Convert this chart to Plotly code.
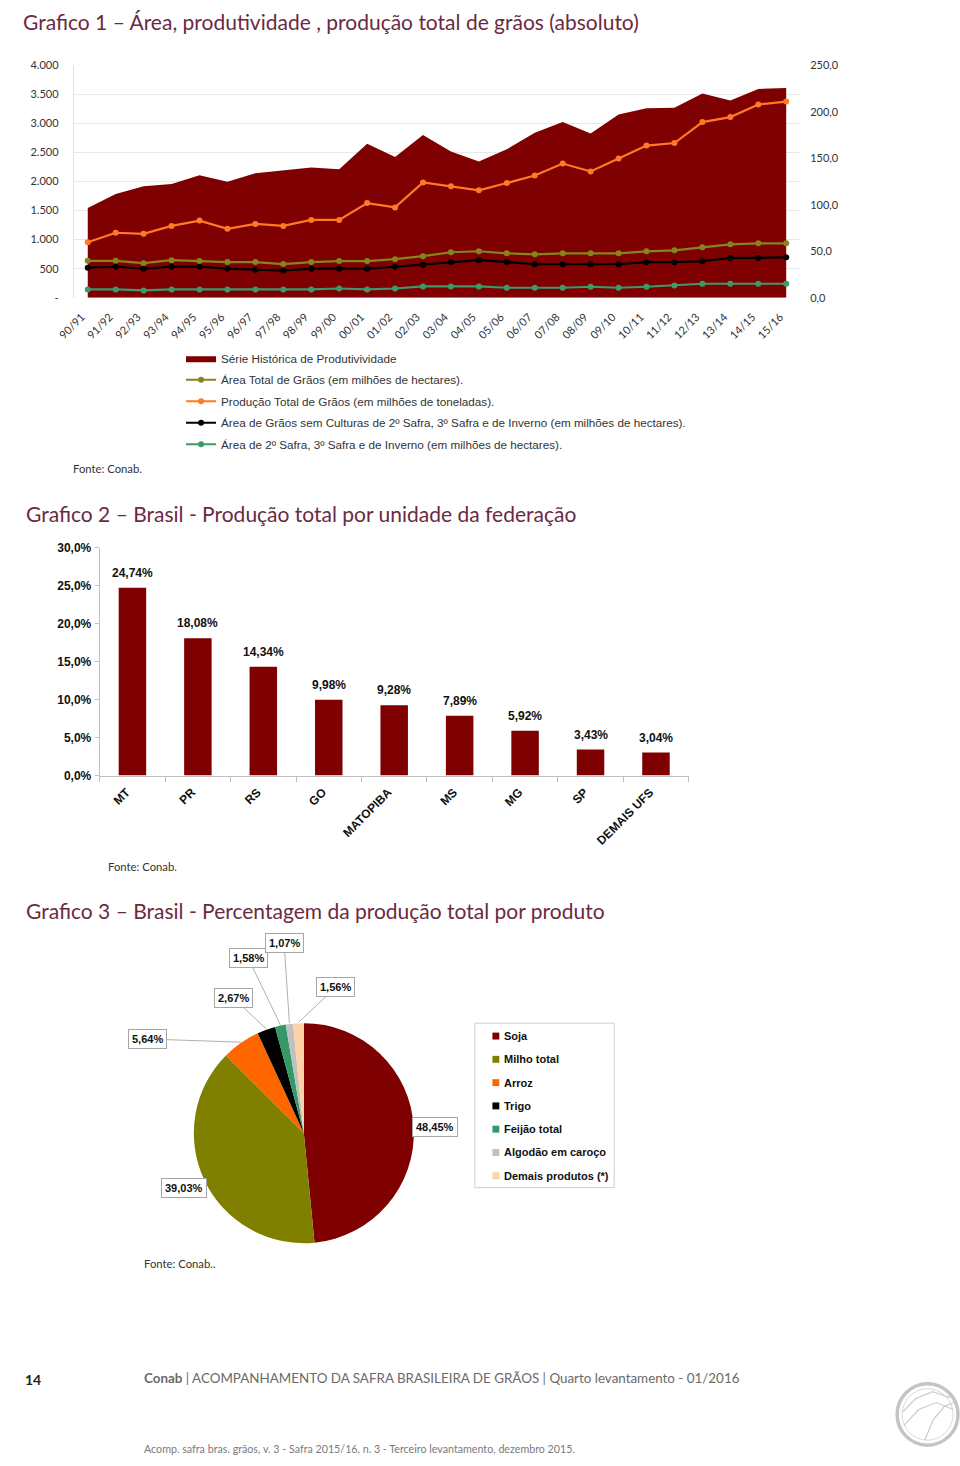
import math
import plotly.graph_objects as go

W, H = 960, 1466


def fx(px):
    return px / W


def fy(py):
    return 1 - py / H


# ---------------- DATA ----------------
safras = ["90/91", "91/92", "92/93", "93/94", "94/95", "95/96", "96/97", "97/98", "98/99",
          "99/00", "00/01", "01/02", "02/03", "03/04", "04/05", "05/06", "06/07", "07/08",
          "08/09", "09/10", "10/11", "11/12", "12/13", "13/14", "14/15", "15/16"]
produtividade = [1543, 1787, 1918, 1957, 2111, 1997, 2145, 2190, 2241, 2213, 2650, 2423, 2803,
                 2519, 2345, 2556, 2842, 3024, 2830, 3155, 3264, 3270, 3515, 3395, 3595, 3612]
area_total = [39.7, 39.7, 37.2, 40.4, 39.4, 38.3, 38.3, 36.2, 38.3, 39.4, 39.4, 41.5, 44.7,
              48.9, 50.0, 47.8, 46.7, 47.8, 47.8, 47.8, 49.9, 51.0, 54.2, 57.4, 58.5, 58.5]
producao_total = [59.6, 69.9, 68.8, 77.3, 83.0, 74.1, 79.4, 77.3, 83.7, 83.7, 101.8, 97.2, 124.1,
                  119.9, 115.6, 123.4, 131.6, 144.4, 135.9, 149.8, 163.7, 166.5, 189.0, 194.4,
                  207.9, 211.1]
area_primeira = [32.3, 33.3, 31.2, 33.3, 33.3, 31.2, 30.1, 29.1, 31.2, 31.2, 31.2, 33.3, 35.5,
                 38.3, 40.4, 38.5, 36.0, 36.0, 36.0, 36.0, 38.2, 38.2, 39.2, 42.8, 42.8, 43.5]
area_segunda = [8.9, 8.9, 7.8, 8.9, 8.9, 8.9, 8.9, 8.9, 8.9, 9.9, 8.9, 9.9, 12.1, 12.1, 12.1,
                10.7, 10.7, 10.7, 11.8, 10.7, 11.8, 13.2, 15.0, 15.0, 15.0, 15.0]

left_tickvals = [0, 500, 1000, 1500, 2000, 2500, 3000, 3500, 4000]
left_ticktext = ["-", "500", "1.000", "1.500", "2.000", "2.500", "3.000", "3.500", "4.000"]
right_tickvals = [0, 50, 100, 150, 200, 250]
right_ticktext = ["0,0", "50,0", "100,0", "150,0", "200,0", "250,0"]

ufs = ["MT", "PR", "RS", "GO", "MATOPIBA", "MS", "MG", "SP", "DEMAIS UFS"]
participacao_uf = [24.74, 18.08, 14.34, 9.98, 9.28, 7.89, 5.92, 3.43, 3.04]
bar_tickvals = [0, 5, 10, 15, 20, 25, 30]
bar_ticktext = ["0,0%", "5,0%", "10,0%", "15,0%", "20,0%", "25,0%", "30,0%"]

produtos = ["Soja", "Milho total", "Arroz", "Trigo", "Feijão total", "Algodão em caroço",
            "Demais produtos (*)"]
participacao_produto = [48.45, 39.03, 5.64, 2.67, 1.58, 1.07, 1.56]
cores_produto = ["#7f0000", "#808000", "#ff6600", "#000000", "#339966", "#c0c0c0", "#fcd2a6"]


def pct(v):
    return f"{v:.2f}".replace(".", ",") + "%"


# ---------------- STYLE / LAYOUT CONSTANTS ----------------
TITLE_COLOR = "#6b2a42"
TITLE_FONT = "Lato"
DARK_RED = "#7f0000"
BOLD12 = dict(family="Liberation Sans", size=12, color="#111111", weight="bold")
AX_FONT1 = dict(family="Lato", size=11, color="#333333")

fig = go.Figure()

# ---- Chart 1 ----
fig.add_trace(go.Scatter(
    x=safras, y=produtividade, mode="lines", line=dict(width=0, color=DARK_RED),
    fill="tozeroy", fillcolor=DARK_RED, name="Série Histórica de Produtivividade",
    legendgroup="g1", xaxis="x", yaxis="y", hoverinfo="skip"))

line_series = [
    (area_total, "#85851c", "Área Total de Grãos (em milhões de hectares).", "g2"),
    (producao_total, "#ff7a22", "Produção Total de Grãos (em milhões de toneladas).", "g3"),
    (area_primeira, "#000000",
     "Área de Grãos sem Culturas de 2º Safra, 3º Safra e de Inverno (em milhões de hectares).", "g4"),
    (area_segunda, "#3a9a6c", "Área de 2º Safra, 3º Safra e de Inverno (em milhões de hectares).", "g5"),
]
for vals, col, nm, grp in line_series:
    fig.add_trace(go.Scatter(
        x=safras, y=vals, mode="lines+markers", name=nm, legendgroup=grp,
        line=dict(color=col, width=2.2), marker=dict(color=col, size=6),
        xaxis="x", yaxis="y2"))

# ---- Chart 2 ----
fig.add_trace(go.Bar(
    x=ufs, y=participacao_uf, marker=dict(color=DARK_RED, line=dict(width=0)),
    width=0.42, showlegend=False, xaxis="x2", yaxis="y3",
    hovertemplate="%{x}: %{y:.2f}%<extra></extra>"))

# ---- Chart 3 ----
PIE_CX, PIE_CY, PIE_R = 292, 1137, 112
fig.add_trace(go.Pie(
    labels=produtos, values=participacao_produto, sort=False, direction="clockwise",
    rotation=0, marker=dict(colors=cores_produto, line=dict(width=0)),
    textinfo="none", showlegend=False, hoverinfo="label+percent",
    domain=dict(x=[fx(PIE_CX - PIE_R), fx(PIE_CX + PIE_R)],
                y=[fy(PIE_CY + PIE_R), fy(PIE_CY - PIE_R)])))

annotations = []
shapes = []

# Bar value labels (anchored to the bars' data coordinates)
for uf, v in zip(ufs, participacao_uf):
    annotations.append(dict(text=pct(v), x=uf, y=v, xref="x2", yref="y3", xanchor="center",
                            yanchor="bottom", yshift=6, showarrow=False, font=BOLD12))

# Titles
titles = [
    ("Grafico 1 – Área, produtividade , produção total de grãos (absoluto)", 4, 15),
    ("Grafico 2 – Brasil - Produção total por unidade da federação", 7, 511),
    ("Grafico 3 – Brasil - Percentagem da produção total por produto", 7, 912),
]
for txt, x, y in titles:
    annotations.append(dict(text=txt, x=fx(x), y=fy(y), xref="paper", yref="paper",
                            xanchor="left", yanchor="middle", showarrow=False,
                            font=dict(family=TITLE_FONT, size=21, color=TITLE_COLOR)))

# Sources
for txt, x, y in [("Fonte: Conab.", 55, 466), ("Fonte: Conab.", 91, 868), ("Fonte: Conab..", 127, 1269)]:
    annotations.append(dict(text=txt, x=fx(x), y=fy(y), xref="paper", yref="paper",
                            xanchor="left", yanchor="middle", showarrow=False,
                            font=dict(family="Lato", size=11.3, color="#333333")))

# Pie data labels
label_pos = [(426, 1131), (170, 1192), (135, 1042), (221, 1001), (236, 961), (272, 946), (324, 990)]
leader = [False, False, True, True, True, True, True]
total = sum(participacao_produto)
cum = 0.0
for i, v in enumerate(participacao_produto):
    mid = (cum + v / 2) / total * 2 * math.pi
    cum += v
    ex = PIE_CX + PIE_R * math.sin(mid)
    ey = PIE_CY - PIE_R * math.cos(mid)
    lx, ly = label_pos[i]
    base = dict(text=pct(v), xref="paper", yref="paper", bgcolor="white",
                bordercolor="#a6a6a6", borderwidth=1, borderpad=3,
                font=dict(family="Liberation Sans", size=11, color="#111111", weight="bold"))
    if leader[i]:
        base.update(x=fx(ex), y=fy(ey), showarrow=True, arrowhead=0, arrowwidth=0.8,
                    arrowcolor="#9a9a9a", ax=lx - ex, ay=ly - ey, axref="pixel", ayref="pixel",
                    standoff=0)
    else:
        base.update(x=fx(lx), y=fy(ly), showarrow=False, xanchor="center", yanchor="middle")
    annotations.append(base)

# Pie legend (manual box)
LEG_X0, LEG_X1, LEG_Y0, LEG_Y1 = 466, 608, 1026, 1192
shapes.append(dict(type="rect", xref="paper", yref="paper", x0=fx(LEG_X0), x1=fx(LEG_X1),
                   y0=fy(LEG_Y1), y1=fy(LEG_Y0), line=dict(color="#d0d0d0", width=1),
                   fillcolor="rgba(0,0,0,0)"))
for i, (nm, col) in enumerate(zip(produtos, cores_produto)):
    yc = 1039 + 23.5 * i
    shapes.append(dict(type="rect", xref="paper", yref="paper", x0=fx(484), x1=fx(491),
                       y0=fy(yc + 3.5), y1=fy(yc - 3.5), line=dict(width=0), fillcolor=col))
    annotations.append(dict(text=nm, x=fx(494), y=fy(yc), xref="paper", yref="paper",
                            xanchor="left", yanchor="middle", showarrow=False,
                            font=dict(family="Liberation Sans", size=11, color="#111111",
                                      weight="bold")))

# Footer
annotations.append(dict(text="14", x=fx(6), y=fy(1386), xref="paper", yref="paper",
                        xanchor="left", yanchor="middle", showarrow=False,
                        font=dict(family="Lato", size=14, color="#222222", weight="bold")))
annotations.append(dict(
    text="<b>Conab</b> | ACOMPANHAMENTO DA SAFRA BRASILEIRA DE GRÃOS | Quarto levantamento - 01/2016",
    x=fx(127), y=fy(1384), xref="paper", yref="paper", xanchor="left", yanchor="middle",
    showarrow=False, font=dict(family="Lato", size=13.4, color="#6a6a6a")))
annotations.append(dict(
    text="Acomp. safra bras. grãos, v. 3 - Safra 2015/16, n. 3 - Terceiro levantamento, dezembro 2015.",
    x=fx(127), y=fy(1455), xref="paper", yref="paper", xanchor="left", yanchor="middle",
    showarrow=False, font=dict(family="Lato", size=10.7, color="#7a7a7a")))

# Logo (decorative)
LCX, LCY, LR = 927, 1421, 31
shapes.append(dict(type="circle", xref="paper", yref="paper", x0=fx(LCX - LR), x1=fx(LCX + LR),
                   y0=fy(LCY + LR), y1=fy(LCY - LR), line=dict(color="#c4c4c4", width=3.5),
                   fillcolor="white"))
shapes.append(dict(type="circle", xref="paper", yref="paper", x0=fx(LCX - LR + 5), x1=fx(LCX + LR - 5),
                   y0=fy(LCY + LR - 5), y1=fy(LCY - LR + 5), line=dict(color="#dadada", width=1)))
for path_pts in ([(902, 1418), (915, 1405), (932, 1398), (950, 1404)],
                 [(903, 1432), (918, 1416), (936, 1409), (953, 1416)],
                 [(924, 1447), (933, 1426), (944, 1413), (954, 1409)]):
    d = "M" + " L".join(f"{fx(a)},{fy(b)}" for a, b in path_pts)
    shapes.append(dict(type="path", xref="paper", yref="paper", path=d,
                       line=dict(color="#cccccc", width=1.2)))

fig.update_layout(
    width=W, height=H, autosize=False,
    margin=dict(l=0, r=0, t=0, b=0),
    paper_bgcolor="white", plot_bgcolor="white",
    showlegend=True,
    legend=dict(x=fx(167), y=fy(340), xanchor="left", yanchor="top",
                bgcolor="rgba(0,0,0,0)", borderwidth=0, tracegroupgap=2.5,
                itemwidth=30, traceorder="grouped",
                font=dict(family="Liberation Sans", size=11.7, color="#333333")),
    xaxis=dict(domain=[fx(57.8), fx(797.3)], anchor="y", type="category",
               range=[-0.5, len(safras) - 0.5], tickangle=-45, tickfont=AX_FONT1,
               showgrid=False, showline=False, ticks="", ticklabelstandoff=10,
               ticklabelshift=-6, fixedrange=True),
    yaxis=dict(domain=[fy(293.5), fy(59)], anchor="x", range=[0, 4000],
               tickvals=left_tickvals, ticktext=left_ticktext, tickfont=AX_FONT1,
               showgrid=True, gridcolor="#e8e8e8", gridwidth=1, zeroline=False,
               showline=True, linecolor="#e0e0e0", ticks="", ticklabelstandoff=12),
    yaxis2=dict(overlaying="y", side="right", anchor="x", range=[0, 250],
                tickvals=right_tickvals, ticktext=right_ticktext, tickfont=AX_FONT1,
                showgrid=False, zeroline=False, showline=False, ticks="",
                ticklabelstandoff=9),
    xaxis2=dict(domain=[fx(84.2), fx(683.8)], anchor="y3", type="category",
                range=[-0.5, len(ufs) - 0.5], tickangle=-45, tickfont=BOLD12,
                showline=True, linecolor="#bfbfbf", ticks="outside", tickson="boundaries",
                ticklen=5, tickcolor="#bfbfbf", showgrid=False, ticklabelstandoff=4,
                ticklabelshift=-6),
    yaxis3=dict(domain=[fy(776), fy(546)], anchor="x2", range=[0, 30],
                tickvals=bar_tickvals, ticktext=bar_ticktext, tickfont=BOLD12,
                showline=True, linecolor="#bfbfbf", ticks="outside", ticklen=4,
                tickcolor="#bfbfbf", showgrid=False, zeroline=False, ticklabelstandoff=1),
    annotations=annotations,
    shapes=shapes,
)

fig.write_html("out.html", config={"displayModeBar": False},
               post_script="document.body.style.margin='0';document.body.style.overflow='hidden';")
